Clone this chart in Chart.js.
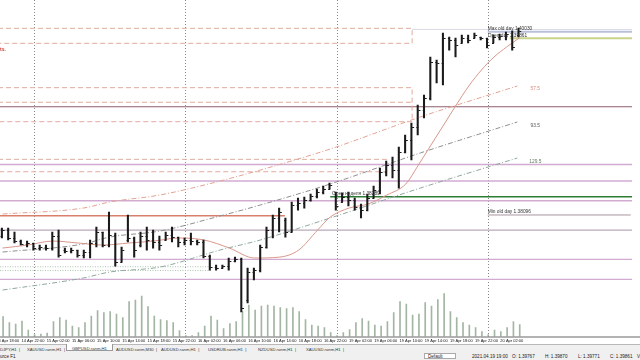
<!DOCTYPE html>
<html>
<head>
<meta charset="utf-8">
<script src="https://cdn.jsdelivr.net/npm/chart.js@4.4.1/dist/chart.umd.min.js"></script>
<style>
body{margin:0;width:640px;height:360px;overflow:hidden;background:#fff;font-family:"Liberation Sans",Arial,sans-serif}
#wrap{position:absolute;left:0;top:0;width:640px;height:344px}
#tabs{position:absolute;left:0;top:344px;width:640px;height:8px;background:#f0f0f0;border-top:1px solid #b8b8b8;box-sizing:border-box;font-size:4.2px;color:#333;white-space:nowrap}
#tabs span{position:absolute;top:1.5px}
#tabs .on{top:-1px;height:7px;background:#fff;border:1px solid #999;border-top:none;padding:1.5px 5px 0 5px;box-sizing:border-box}
#status{position:absolute;left:0;top:352px;width:640px;height:8px;background:#f0f0f0;font-size:4.6px;color:#222;white-space:nowrap}
#status span{position:absolute;top:1.5px}
#status .box{top:0.5px;height:6px;border:1px solid #aaa;padding:0.5px 12px 0 3px;box-sizing:border-box;background:#fff}
</style>
</head>
<body>
<div id="wrap"><canvas id="chart" width="640" height="344"></canvas></div>
<div id="tabs">
  <span style="left:0">DJPY,H1 &nbsp;|</span>
  <span style="left:27px">XAUUSD.ranm,H1 &nbsp;|</span>
  <span class="on" style="left:66px">GBPUSD.ranm,H1</span>
  <span style="left:116px">AUDUSD.ranm,M30 &nbsp;|</span>
  <span style="left:161px">AUDUSD.ranm,H1 &nbsp;|</span>
  <span style="left:208px">USDRUB.ranm,H1 &nbsp;|</span>
  <span style="left:258px">NZDUSD.ranm,H1 &nbsp;|</span>
  <span style="left:306px">XAUUSD.ranm,H1 &nbsp;|</span>
</div>
<div id="status">
  <span style="left:0">urce F1</span>
  <span class="box" style="left:424px">Default</span>
  <span style="left:472px">2021.04.19 19:00</span>
  <span style="left:512px">O: 1.39767</span>
  <span style="left:545px">H: 1.39870</span>
  <span style="left:578px">L: 1.39771</span>
  <span style="left:610px">C: 1.39861</span>
  <span style="left:637px">V: 1875</span>
</div>
<script>
// time axis labels, one every 4 hourly bars (index of bar)
const timeLabels = ['14 Apr 18:00', '14 Apr 22:00', '15 Apr 02:00', '15 Apr 06:00', '15 Apr 10:00', '15 Apr 14:00',
  '15 Apr 18:00', '15 Apr 22:00', '16 Apr 02:00', '16 Apr 06:00', '16 Apr 10:00', '16 Apr 14:00', '16 Apr 18:00',
  '16 Apr 22:00', '19 Apr 02:00', '19 Apr 06:00', '19 Apr 10:00', '19 Apr 14:00', '19 Apr 18:00', '19 Apr 22:00', '20 Apr 02:00'];
const timeIdx = [-1, 3, 7, 11, 15, 19, 23, 27, 31, 35, 39, 43, 47, 51, 55, 59, 63, 67, 71, 75, 79];
const daySeparators = [5, 29, 53, 77];

// GBPUSD H1 bars
const opens = [1.37874, 1.37937, 1.37853, 1.37821, 1.37790, 1.37800, 1.37747, 1.37758, 1.37747, 1.37874,
  1.37726, 1.37716, 1.37726, 1.37674, 1.37705, 1.37800, 1.37916, 1.37779, 1.37885, 1.37600,
  1.37832, 1.37853, 1.37779, 1.37874, 1.37832, 1.37811, 1.37832, 1.37885, 1.37863, 1.37811,
  1.37832, 1.37821, 1.37811, 1.37663, 1.37547, 1.37536, 1.37557, 1.37610, 1.37631, 1.37199,
  1.37494, 1.37515, 1.37758, 1.37937, 1.38064, 1.38043, 1.37916, 1.38201, 1.38222, 1.38254,
  1.38296, 1.38338, 1.38370, 1.38338, 1.38233, 1.38286, 1.38254, 1.38180, 1.38148, 1.38275,
  1.38359, 1.38549, 1.38623, 1.38570, 1.38760, 1.38887, 1.39024, 1.39203, 1.39330, 1.39710,
  1.39699, 1.39963, 1.39942, 1.39910, 1.39963, 1.39963, 1.39974, 1.39963, 1.39910, 1.39974,
  1.39984, 1.39984, 1.39995];
const highs = [1.37958, 1.37958, 1.37916, 1.37832, 1.37821, 1.37800, 1.37779, 1.37779, 1.37916, 1.37937,
  1.37747, 1.37747, 1.37726, 1.37726, 1.37832, 1.37969, 1.37916, 1.38127, 1.37906, 1.37758,
  1.38096, 1.37863, 1.37916, 1.37969, 1.37937, 1.37874, 1.37916, 1.37969, 1.37863, 1.37853,
  1.37906, 1.37832, 1.37832, 1.37674, 1.37568, 1.37568, 1.37642, 1.37652, 1.37642, 1.37536,
  1.37536, 1.37779, 1.37969, 1.38096, 1.38169, 1.38064, 1.38233, 1.38275, 1.38286, 1.38317,
  1.38370, 1.38402, 1.38433, 1.38338, 1.38328, 1.38338, 1.38275, 1.38212, 1.38317, 1.38402,
  1.38591, 1.38665, 1.38707, 1.38813, 1.38940, 1.39066, 1.39256, 1.39362, 1.39763, 1.39731,
  1.40016, 1.39974, 1.39963, 1.39995, 1.39995, 1.40016, 1.39974, 1.39963, 1.39995, 1.40005,
  1.40026, 1.40037, 1.40069];
const lows = [1.37853, 1.37832, 1.37800, 1.37779, 1.37758, 1.37726, 1.37726, 1.37726, 1.37726, 1.37652,
  1.37695, 1.37695, 1.37652, 1.37642, 1.37642, 1.37758, 1.37758, 1.37758, 1.37557, 1.37600,
  1.37811, 1.37652, 1.37758, 1.37726, 1.37747, 1.37726, 1.37832, 1.37811, 1.37758, 1.37779,
  1.37779, 1.37779, 1.37642, 1.37515, 1.37515, 1.37536, 1.37515, 1.37600, 1.37072, 1.37167,
  1.37410, 1.37494, 1.37747, 1.37853, 1.37916, 1.37863, 1.37916, 1.38148, 1.38169, 1.38243,
  1.38275, 1.38317, 1.38370, 1.38148, 1.38233, 1.38191, 1.38148, 1.38064, 1.38138, 1.38275,
  1.38317, 1.38507, 1.38486, 1.38380, 1.38750, 1.38676, 1.38940, 1.39119, 1.39309, 1.39488,
  1.39467, 1.39836, 1.39763, 1.39910, 1.39910, 1.39963, 1.39942, 1.39858, 1.39910, 1.39942,
  1.39942, 1.39836, 1.39974];
const closes = [1.37937, 1.37853, 1.37821, 1.37790, 1.37800, 1.37747, 1.37758, 1.37747, 1.37874, 1.37674,
  1.37716, 1.37726, 1.37674, 1.37705, 1.37800, 1.37916, 1.37779, 1.37885, 1.37600, 1.37726,
  1.37853, 1.37726, 1.37874, 1.37832, 1.37811, 1.37779, 1.37885, 1.37863, 1.37811, 1.37832,
  1.37821, 1.37811, 1.37663, 1.37547, 1.37536, 1.37557, 1.37610, 1.37631, 1.37114, 1.37494,
  1.37515, 1.37758, 1.37937, 1.38064, 1.38127, 1.37916, 1.38201, 1.38222, 1.38254, 1.38296,
  1.38338, 1.38370, 1.38412, 1.38191, 1.38286, 1.38254, 1.38180, 1.38148, 1.38275, 1.38359,
  1.38549, 1.38623, 1.38570, 1.38760, 1.38887, 1.39024, 1.39203, 1.39330, 1.39710, 1.39699,
  1.39963, 1.39942, 1.39889, 1.39963, 1.39942, 1.39995, 1.39963, 1.39889, 1.39974, 1.39984,
  1.40005, 1.39868, 1.40037];
const volumes = [2000, 1400, 1250, 1550, 650, 200, 250, 350, 1500, 1900,
  1650, 1050, 900, 1400, 2050, 2600, 2400, 2500, 2250, 1900,
  3500, 3650, 4050, 3000, 2050, 1700, 1600, 1400, 600, 100,
  100, 400, 1050, 2050, 1650, 800, 1300, 1500, 2500, 3150,
  2650, 3050, 3150, 3050, 2900, 2800, 2900, 2500, 1700, 1150,
  1050, 900, 400, 100, 400, 700, 1400, 1800, 1550, 1150,
  1050, 1500, 2400, 3500, 3250, 2150, 2250, 3400, 3050, 3700,
  4300, 2500, 1900, 1400, 1150, 900, 500, 200, 650, 500,
  900, 1500, 1200];

// moving average (read at some bars)
const maIdx = [0, 4, 8, 12, 16, 20, 24, 28, 32, 36, 40, 44, 47, 50, 52, 55, 58, 61, 64, 66, 68, 70, 72, 74, 76, 78, 80, 82];
const maVals = [1.37747, 1.37779, 1.37821, 1.37800, 1.37779, 1.37800, 1.37821, 1.37853, 1.37832, 1.37747, 1.37642,
  1.37652, 1.37726, 1.37937, 1.38074, 1.38169, 1.38212, 1.38307, 1.38423, 1.38623, 1.38834, 1.39045, 1.39256,
  1.39457, 1.39625, 1.39763, 1.39868, 1.39963];

// regression channel
const chIdx = [0, 12.8, 17, 25, 34.5, 40.9, 52, 66.3, 81.7];
const chUpper = [1.38106, 1.38169, 1.38233, 1.38307, 1.38454, 1.38570, 1.38792, 1.39130, 1.39457];
const chMiddle = [1.37705, 1.37790, 1.37863, 1.37927, 1.38085, 1.38201, 1.38423, 1.38750, 1.39077];
const chLower = [1.37304, 1.37431, 1.37494, 1.37547, 1.37726, 1.37832, 1.38064, 1.38380, 1.38697];

// levels
const fullLevels = [1.38629, 1.38454, 1.38246, 1.37628, 1.37417];
const darkLevel = 1.39238;
const grayLevel = 1.37937;
const redLevel = 1.38088;
const weekOpen = 1.38289;
const maxOldDay = 1.40030;
const minOldDay = 1.38096;
const dayOpen = 1.39960;
const topLevel = 1.40053;
const dottedLevels = [1.37550, 1.37510];
const boxA = [1.40065, 1.39907];
const boxB = [1.39439, 1.39080];
const boxBmid = 1.39285;
const boxC = [1.38683, 1.38552];

const noteText = ['Max old day 1.40030', 'Open day 1.39861', 'Min old day 1.38096', 'Open неделя 1.38289', '57.5', '93.5', '129.5', 'ts.'];
const noteIdx = [77, 77, 77, 52.3, 83.8, 83.8, 83.6, -0.4];
const notePrice = [1.40030, 1.39960, 1.38096, 1.38289, 1.39425, 1.39035, 1.38655, 1.39836];
const noteColor = ['#333', '#333', '#333', '#333', '#d88a78', '#555', '#5d7d62', '#d03a30'];

const idx = opens.map((v, i) => i);

function hline(price, from, to, color, width, dash) {
  return { type: 'line', data: [{ x: from, y: price }, { x: to, y: price }], borderColor: color,
    borderWidth: width, borderDash: dash || [], pointRadius: 0, order: 10 };
}
function box(lv, to, color) {
  return { type: 'line', data: [{ x: -2, y: lv[0] }, { x: to, y: lv[0] }, { x: to, y: lv[1] }, { x: -2, y: lv[1] }],
    borderColor: color, borderWidth: 1, borderDash: [5, 3], pointRadius: 0, order: 10 };
}
function curve(vals, color, dash) {
  return { type: 'line', data: chIdx.map((v, i) => ({ x: v, y: vals[i] })), borderColor: color, borderWidth: 1,
    borderDash: dash, pointRadius: 0, cubicInterpolationMode: 'monotone', order: 8 };
}

const dashCol = '#e3ab9d';
const datasets = [
  { type: 'bar', data: idx.map(i => ({ x: i, y: volumes[i] })), yAxisID: 'yv', backgroundColor: '#a3b5a3', barThickness: 1, order: 9 },
  { type: 'bar', data: idx.map(i => ({ x: i, y: [lows[i], highs[i]] })), yAxisID: 'y', backgroundColor: '#1a1a1a', barThickness: 1.4, order: 1 },
  { type: 'line', data: maIdx.map((v, i) => ({ x: v, y: maVals[i] })), borderColor: '#d9978b', borderWidth: 1,
    pointRadius: 0, cubicInterpolationMode: 'monotone', order: 2 },
  curve(chUpper, '#e2a393', [5, 2, 1, 2]),
  curve(chMiddle, '#8f8f8f', [5, 2, 1, 2]),
  curve(chLower, '#8fa89c', [5, 2, 1, 2]),
  box(boxA, 65, dashCol),
  box(boxB, 65, dashCol),
  hline(boxBmid, -2, 65, dashCol, 1, [5, 3]),
  box(boxC, 61, dashCol),
  hline(darkLevel, -2, 101, '#8c5e6e', 1.2),
  hline(grayLevel, -2, 101, '#b9aab9', 1.2),
  hline(redLevel, -2, 44.8, '#d8806c', 1.5),
  hline(weekOpen, 52, 101, '#2f7d34', 1.5),
  hline(topLevel, 65, 101, '#dcdce6', 1),
  hline(maxOldDay, 77, 101, '#b9c1d9', 2),
  hline(dayOpen, 80.5, 101, '#cad38c', 2),
  hline(minOldDay, 77, 99.7, '#a8959f', 1),
  ...fullLevels.map(p => hline(p, -2, 101, '#d2abd2', 1.4)),
  ...dottedLevels.map(p => hline(p, -2, 33, '#a9c7a9', 1, [1, 1.5]))
];

const mtDraw = {
  id: 'mtDraw',
  beforeDatasetsDraw(chart) {
    const { ctx, chartArea: a, scales: { x } } = chart;
    ctx.save();
    ctx.strokeStyle = '#8a8a8a';
    ctx.lineWidth = 1;
    ctx.setLineDash([1, 2]);
    daySeparators.forEach(v => {
      const px = Math.round(x.getPixelForValue(v)) + 0.5;
      ctx.beginPath(); ctx.moveTo(px, a.top); ctx.lineTo(px, a.bottom); ctx.stroke();
    });
    ctx.restore();
  },
  afterDatasetsDraw(chart) {
    const { ctx, chartArea: a, scales: { x, y } } = chart;
    ctx.save();
    // open / close ticks
    ctx.strokeStyle = '#1a1a1a';
    ctx.lineWidth = 1;
    idx.forEach(i => {
      const px = x.getPixelForValue(i);
      const yo = Math.round(y.getPixelForValue(opens[i])) + 0.5;
      const yc = Math.round(y.getPixelForValue(closes[i])) + 0.5;
      ctx.beginPath();
      ctx.moveTo(px - 2, yo); ctx.lineTo(px, yo);
      ctx.moveTo(px, yc); ctx.lineTo(px + 2, yc);
      ctx.stroke();
    });
    // texts
    noteText.forEach((t, k) => {
      const bold = t === 'ts.';
      ctx.font = (bold ? 'bold 5px' : '4.8px') + ' "Liberation Sans"';
      ctx.fillStyle = noteColor[k];
      ctx.textAlign = 'left';
      ctx.textBaseline = k < 4 ? 'bottom' : 'middle';
      ctx.fillText(t, x.getPixelForValue(noteIdx[k]), y.getPixelForValue(notePrice[k]) - (k < 4 ? 0.5 : 0));
    });
    // bottom axis
    ctx.strokeStyle = '#666';
    ctx.setLineDash([]);
    ctx.beginPath(); ctx.moveTo(0, a.bottom + 0.5); ctx.lineTo(640, a.bottom + 0.5); ctx.stroke();
    ctx.font = '4px "Liberation Sans"';
    ctx.fillStyle = '#111';
    ctx.textBaseline = 'middle';
    timeLabels.forEach((t, k) => ctx.fillText(t, x.getPixelForValue(timeIdx[k]), a.bottom + 4));
    ctx.restore();
  }
};

new Chart(document.getElementById('chart').getContext('2d'), {
  type: 'bar',
  data: { datasets: datasets },
  options: {
    responsive: false,
    animation: false,
    layout: { padding: { left: 0, top: 0, right: 8, bottom: 7.5 } },
    plugins: { legend: { display: false }, tooltip: { enabled: false } },
    scales: {
      x: { type: 'linear', min: -0.41, max: 99.9, offset: false, display: false },
      y: { min: 1.36814, max: 1.40364, display: false },
      yv: { min: 0, max: 33650, display: false }
    }
  },
  plugins: [mtDraw]
});
</script>
</body>
</html>
